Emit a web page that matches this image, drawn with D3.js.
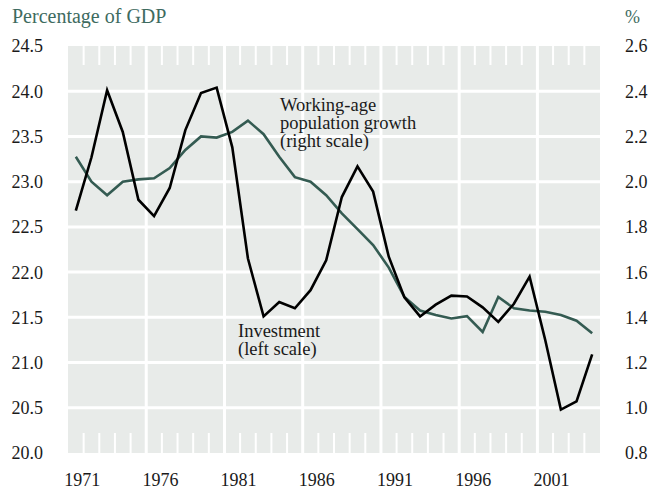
<!DOCTYPE html>
<html>
<head>
<meta charset="utf-8">
<script src="https://cdnjs.cloudflare.com/ajax/libs/d3/7.8.5/d3.min.js"></script>
<style>
    body { margin: 0; background: #fff; }
    text { font-family: "Liberation Serif", "Times New Roman", serif; }
</style>
</head>
<body>
<div id="main_svg"></div>
<script>
// data, one value per year 1970-2003
var years = d3.range(1970, 2004);
var investment = [22.68, 23.27, 24.01, 23.55, 22.80, 22.62, 22.93, 23.57, 23.98, 24.04,
    23.38, 22.15, 21.51, 21.67, 21.60, 21.80, 22.13, 22.83, 23.17, 22.89,
    22.17, 21.72, 21.51, 21.64, 21.74, 21.73, 21.61, 21.45, 21.65, 21.95,
    21.25, 20.48, 20.57, 21.09];
var workingAge = [2.11, 2.00, 1.94, 2.00, 2.01, 2.015, 2.06, 2.14, 2.20, 2.195,
    2.22, 2.27, 2.21, 2.11, 2.02, 2.00, 1.94, 1.86, 1.79, 1.72,
    1.62, 1.49, 1.43, 1.41, 1.395, 1.405, 1.335, 1.49, 1.44, 1.43,
    1.425, 1.41, 1.385, 1.33];
var leftTicks = [20.0, 20.5, 21.0, 21.5, 22.0, 22.5, 23.0, 23.5, 24.0, 24.5];
var rightTicks = [0.8, 1.0, 1.2, 1.4, 1.6, 1.8, 2.0, 2.2, 2.4, 2.6];
var yearLabels = [1971, 1976, 1981, 1986, 1991, 1996, 2001];

var width = 662, height = 490;
var plot = {left: 68, right: 600, top: 46, bottom: 453};

var svg = d3.select("#main_svg").append("svg")
    .attr("width", width)
    .attr("height", height);

// scales
var x = d3.scaleLinear().domain([1970, 2004]).range([plot.left, plot.right]);
var yL = d3.scaleLinear().domain([20, 24.5]).range([plot.bottom, plot.top]);
var yR = d3.scaleLinear().domain([0.8, 2.6]).range([plot.bottom, plot.top]);

// grey panel
svg.append("rect")
    .attr("x", plot.left)
    .attr("y", plot.top)
    .attr("width", plot.right - plot.left)
    .attr("height", plot.bottom - plot.top)
    .attr("fill", "#e8ebe9");

// white grid
svg.selectAll(".hgrid")
    .data(leftTicks.slice(1, -1))
    .enter().append("line")
    .attr("class", "hgrid")
    .attr("x1", plot.left).attr("x2", plot.right)
    .attr("y1", function (d) { return yL(d); })
    .attr("y2", function (d) { return yL(d); })
    .attr("stroke", "#fff").attr("stroke-width", 3);

var fives = years.filter(function (d) { return d % 5 === 0 && d > 1970; });
svg.selectAll(".vgrid")
    .data(fives)
    .enter().append("line")
    .attr("class", "vgrid")
    .attr("x1", function (d) { return x(d); })
    .attr("x2", function (d) { return x(d); })
    .attr("y1", plot.top).attr("y2", plot.bottom)
    .attr("stroke", "#fff").attr("stroke-width", 3);

// small year ticks top and bottom
var minor = years.filter(function (d) { return d % 5 !== 0; });
[[plot.top, plot.top + 19], [plot.bottom - 20, plot.bottom]].forEach(function (r) {
    svg.append("g").selectAll("line")
        .data(minor)
        .enter().append("line")
        .attr("x1", function (d) { return x(d); })
        .attr("x2", function (d) { return x(d); })
        .attr("y1", r[0]).attr("y2", r[1])
        .attr("stroke", "#fff").attr("stroke-width", 2);
});

// lines
var lineL = d3.line()
    .x(function (d, i) { return x(years[i] + 0.5); })
    .y(function (d) { return yL(d); });
var lineR = d3.line()
    .x(function (d, i) { return x(years[i] + 0.5); })
    .y(function (d) { return yR(d); });

svg.append("path")
    .datum(workingAge)
    .attr("d", lineR)
    .attr("fill", "none")
    .attr("stroke", "#345b52")
    .attr("stroke-width", 2.6)
    .attr("stroke-linejoin", "miter");

svg.append("path")
    .datum(investment)
    .attr("d", lineL)
    .attr("fill", "none")
    .attr("stroke", "#000")
    .attr("stroke-width", 2.6)
    .attr("stroke-linejoin", "miter");

// left axis labels
svg.append("g").selectAll("text")
    .data(leftTicks)
    .enter().append("text")
    .attr("x", 43)
    .attr("y", function (d) { return yL(d); })
    .attr("dy", "0.36em")
    .attr("text-anchor", "end")
    .attr("font-size", 18)
    .attr("fill", "#1a1a1a")
    .text(function (d) { return d3.format(".1f")(d); });

// right axis labels
svg.append("g").selectAll("text")
    .data(rightTicks)
    .enter().append("text")
    .attr("x", 625)
    .attr("y", function (d) { return yR(d); })
    .attr("dy", "0.36em")
    .attr("font-size", 18)
    .attr("fill", "#1a1a1a")
    .text(function (d) { return d3.format(".1f")(d); });

// year labels
svg.append("g").selectAll("text")
    .data(yearLabels)
    .enter().append("text")
    .attr("x", function (d) { return x(d) - 1.5; })
    .attr("y", 485.5)
    .attr("text-anchor", "middle")
    .attr("font-size", 18)
    .attr("fill", "#1a1a1a")
    .text(function (d) { return d; });

// axis titles
svg.append("text")
    .attr("x", 12).attr("y", 22.5)
    .attr("font-size", 20)
    .attr("fill", "#3e6b5f")
    .text("Percentage of GDP");
svg.append("text")
    .attr("x", 625).attr("y", 22.5)
    .attr("font-size", 18)
    .attr("fill", "#3e6b5f")
    .text("%");

// annotations
function note(lines, x0, y0) {
    svg.append("g").selectAll("text")
        .data(lines)
        .enter().append("text")
        .attr("x", x0)
        .attr("y", function (d, i) { return y0 + i * 18; })
        .attr("font-size", 18.5)
        .attr("fill", "#1a1a1a")
        .text(function (d) { return d; });
}
note(["Working-age", "population growth", "(right scale)"], 280, 111);
note(["Investment", "(left scale)"], 238, 337);
</script>
</body>
</html>
